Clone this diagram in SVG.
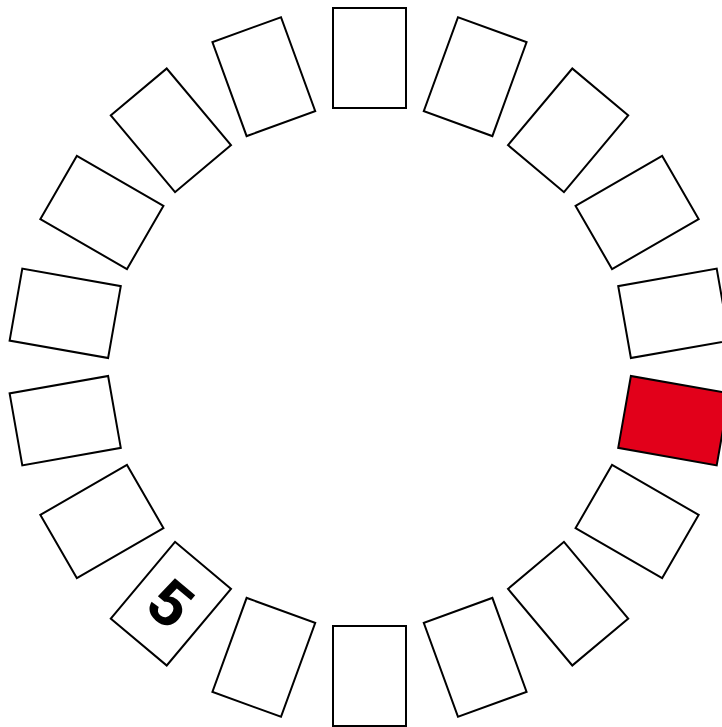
<svg xmlns="http://www.w3.org/2000/svg" width="722" height="727" viewBox="0 0 722 727">
<style>
.slot{fill:#fff;stroke:#000;stroke-width:2}
.on{fill:#e2001a}
.num{font-family:"Liberation Sans","DejaVu Sans",sans-serif;font-weight:bold;font-size:64px;fill:#000}
</style>
<defs><rect id="r" x="-36.5" y="-50" width="73" height="100"/></defs>
<rect width="722" height="727" fill="#fff"/>
<g id="n0" transform="translate(369.5,58) rotate(0)"><use href="#r" class="slot"/></g>
<g id="n1" transform="translate(475.18,76.64) rotate(20)"><use href="#r" class="slot"/></g>
<g id="n2" transform="translate(568.12,130.29) rotate(40)"><use href="#r" class="slot"/></g>
<g id="n3" transform="translate(637.1,212.5) rotate(60)"><use href="#r" class="slot"/></g>
<g id="n4" transform="translate(673.8,313.34) rotate(80)"><use href="#r" class="slot"/></g>
<g id="n5" transform="translate(673.8,420.66) rotate(100)"><use href="#r" class="slot on"/></g>
<g id="n6" transform="translate(637.1,521.5) rotate(120)"><use href="#r" class="slot"/></g>
<g id="n7" transform="translate(568.12,603.71) rotate(140)"><use href="#r" class="slot"/></g>
<g id="n8" transform="translate(475.18,657.36) rotate(160)"><use href="#r" class="slot"/></g>
<g id="n9" transform="translate(369.5,676) rotate(180)"><use href="#r" class="slot"/></g>
<g id="n10" transform="translate(263.82,657.36) rotate(200)"><use href="#r" class="slot"/></g>
<g id="n11" transform="translate(170.88,603.71)"><use href="#r" class="slot" transform="rotate(220)"/><text class="num" transform="rotate(40)" text-anchor="middle" dominant-baseline="central">5</text></g>
<g id="n12" transform="translate(101.9,521.5) rotate(240)"><use href="#r" class="slot"/></g>
<g id="n13" transform="translate(65.2,420.66) rotate(260)"><use href="#r" class="slot"/></g>
<g id="n14" transform="translate(65.2,313.34) rotate(280)"><use href="#r" class="slot"/></g>
<g id="n15" transform="translate(101.9,212.5) rotate(300)"><use href="#r" class="slot"/></g>
<g id="n16" transform="translate(170.88,130.29) rotate(320)"><use href="#r" class="slot"/></g>
<g id="n17" transform="translate(263.82,76.64) rotate(340)"><use href="#r" class="slot"/></g>
<g id="connectors"/>
</svg>
